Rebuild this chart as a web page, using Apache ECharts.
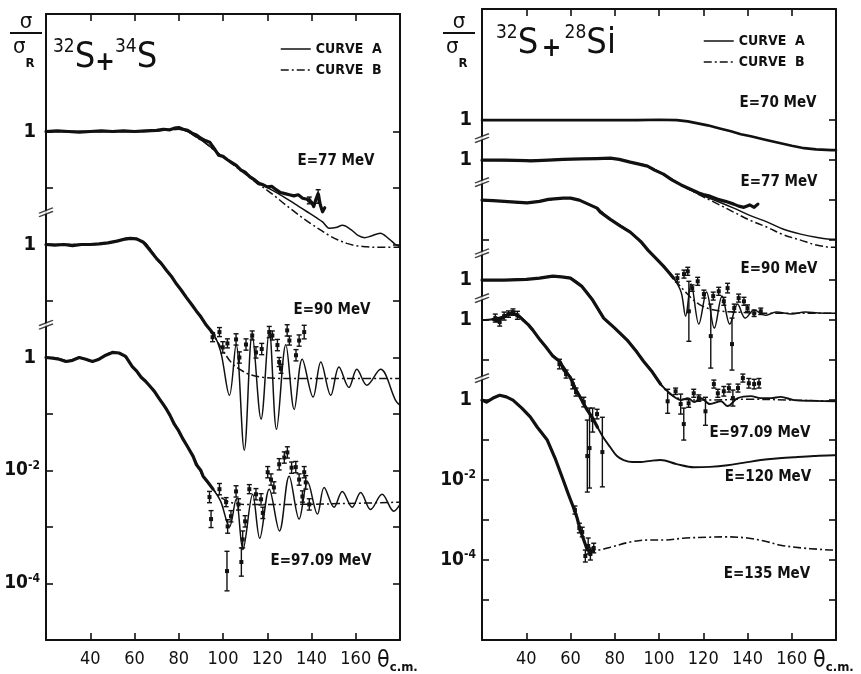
<!DOCTYPE html>
<html><head><meta charset="utf-8">
<script src="https://cdn.jsdelivr.net/npm/echarts@6/dist/echarts.min.js"></script>
<style>html,body{margin:0;padding:0;background:#fff}#c{width:861px;height:674px}</style>
</head><body><div id="c"></div>
<script>
// ---------- DATA: [theta_cm (deg), log10(sigma/sigma_R)] ; error points: [theta, log10, err] ----------
// Left panel: 32S + 34S
const L77_data = [[20,0],[25,0.01],[30,0],[35,-0.01],[40,0],[45,0.01],[50,0],[55,0.01],[60,0],[65,0.01],[70,0.02],[73,0.04],[76,0.03],[78,0.06],[80,0.07],[82,0.04],[84,0.02],[86,-0.03],[88,-0.06],[90,-0.12],[92,-0.16],[94,-0.19],[96,-0.3],[98,-0.42],[100,-0.44],[102,-0.5],[104,-0.55],[106,-0.6],[108,-0.68],[110,-0.72],[112,-0.8],[114,-0.85],[116,-0.92],[118,-0.94],[120,-0.98],[122,-0.97],[124,-1.03],[126,-1.08],[128,-1.1],[130,-1.12],[132,-1.14],[134,-1.12],[136,-1.18],[138,-1.2],[140,-1.25],[141,-1.33],[142,-1.2],[143,-1.1],[144,-1.3],[145,-1.42],[146,-1.35]];
const L77_err = [[143,-1.15,0.12],[139,-1.22,0.06]];
const L77_A = [[20,0],[40,0],[60,0],[70,0.01],[76,0.03],[80,0.04],[84,0],[88,-0.1],[92,-0.2],[96,-0.33],[100,-0.45],[104,-0.56],[108,-0.67],[112,-0.78],[116,-0.89],[120,-0.99],[125,-1.1],[130,-1.22],[134,-1.32],[138,-1.42],[142,-1.52],[145,-1.6],[148,-1.71],[151,-1.7],[154,-1.66],[158,-1.74],[161,-1.84],[164,-1.88],[167,-1.85],[171,-1.8],[175,-1.9],[178,-2.0],[180,-2.04]];
const L77_B = [[20,0],[60,0],[76,0.03],[80,0.04],[84,0],[88,-0.1],[92,-0.2],[96,-0.33],[100,-0.45],[104,-0.57],[108,-0.69],[112,-0.81],[116,-0.93],[120,-1.04],[124,-1.16],[128,-1.29],[132,-1.41],[136,-1.53],[140,-1.64],[144,-1.74],[148,-1.84],[152,-1.92],[156,-1.98],[160,-2.02],[165,-2.04],[170,-2.05],[180,-2.05]];

const L90_data = [[20,0],[24,-0.01],[28,0],[32,-0.02],[36,0],[40,0],[44,0.01],[48,0.03],[52,0.06],[55,0.09],[58,0.11],[61,0.1],[64,0.04],[67,-0.1],[70,-0.25],[72,-0.33],[74.5,-0.46],[77,-0.58],[79,-0.7],[81,-0.8],[83.5,-0.94],[86,-1.07],[88,-1.18],[90,-1.28],[92.5,-1.43],[94,-1.5],[96,-1.6]];
const L90_err = [[95.3,-1.64,0.08],[98.4,-1.55,0.08],[99.9,-1.82,0.1],[102,-1.75,0.08],[105.9,-1.68,0.1],[107.4,-2.0,0.1],[110.4,-1.77,0.1],[113.2,-1.61,0.08],[114.9,-1.91,0.1],[117.5,-1.85,0.1],[120.9,-1.55,0.1],[122.3,-1.61,0.08],[124.6,-1.78,0.1],[125.4,-2.08,0.08],[126.2,-2.2,0.08],[129,-1.52,0.1],[130,-1.7,0.08],[133,-1.96,0.1],[134.4,-1.7,0.1],[136.7,-1.55,0.12]];
const L90_A = [[20,0],[40,0],[50,0.04],[57,0.11],[62,0.08],[65,0.02],[68,-0.13],[71,-0.3],[74.5,-0.46],[79,-0.7],[83.5,-0.94],[88,-1.18],[92.5,-1.43],[96,-1.6],[99,-1.9],[102.9,-2.67],[105.9,-1.77],[109.6,-3.64],[113.2,-1.59],[117.2,-3.09],[120.9,-1.52],[124.2,-3.27],[128.4,-1.77],[132.2,-2.92],[135.8,-2.03],[140.7,-2.7],[144.2,-2.08],[148.7,-2.67],[152.4,-2.17],[156.9,-2.53],[160.5,-2.21],[165,-2.49],[171.2,-2.21],[178,-2.76],[180,-2.85]];
const L90_B = [[20,0],[40,0],[50,0.04],[57,0.11],[62,0.08],[65,0.02],[68,-0.13],[71,-0.3],[74.5,-0.46],[79,-0.7],[83.5,-0.94],[88,-1.18],[92.5,-1.43],[96,-1.62],[100,-1.88],[104,-2.1],[108,-2.22],[112,-2.3],[118,-2.35],[125,-2.37],[140,-2.37],[160,-2.37],[180,-2.37]];

const L97_data = [[20,0],[23,-0.01],[26,-0.03],[29,-0.07],[32,-0.05],[35,0],[38,-0.03],[41,-0.07],[44,-0.03],[47,0.04],[50,0.09],[53,0.08],[56,0.02],[59,-0.16],[61,-0.24],[63,-0.35],[65,-0.42],[67,-0.51],[69,-0.6],[71,-0.72],[73,-0.83],[74.5,-0.92],[76,-1.02],[78,-1.18],[80,-1.3],[82,-1.45],[84,-1.58],[86.5,-1.75],[88,-1.9],[90,-2.0],[91,-2.1],[93,-2.2],[95.5,-2.33]];
const L97_err = [[93.9,-2.47,0.1],[94.6,-2.86,0.15],[98.4,-2.33,0.1],[101.4,-2.56,0.08],[102.1,-2.99,0.12],[101.8,-3.78,0.35],[103.6,-2.81,0.1],[105.9,-2.37,0.1],[107,-2.6,0.1],[108.9,-3.22,0.15],[108.3,-3.62,0.25],[110,-2.9,0.1],[111.9,-2.33,0.08],[114.9,-2.42,0.1],[117.2,-2.51,0.1],[118,-2.75,0.1],[120.2,-2.03,0.1],[121.7,-2.16,0.1],[123,-2.3,0.1],[125.4,-1.89,0.1],[127.7,-1.77,0.1],[129.1,-1.68,0.1],[131,-1.95,0.1],[132.9,-1.94,0.1],[134.4,-2.16,0.1],[135.9,-2.46,0.1],[136.7,-2.03,0.1],[137.4,-2.21,0.12],[139,-2.6,0.1]];
const L97_A = [[20,0],[26,-0.02],[30,-0.07],[35,0],[41,-0.07],[45,0],[50,0.09],[54,0.07],[59,-0.16],[63,-0.35],[67,-0.51],[71,-0.72],[74.5,-0.92],[78,-1.18],[82,-1.45],[86.5,-1.75],[91,-2.1],[95.5,-2.33],[99,-2.55],[102.9,-3.0],[105.9,-2.51],[109,-3.4],[113.4,-2.42],[116.6,-3.2],[120.9,-2.33],[125.5,-3.07],[129.9,-2.1],[134.4,-2.86],[138.2,-2.2],[142.7,-2.77],[145.7,-2.3],[150.2,-2.65],[153.9,-2.37],[158.4,-2.65],[162.2,-2.39],[166.7,-2.69],[171.9,-2.42],[177.2,-2.72],[180,-2.6]];
const L97_B = [[20,0],[26,-0.02],[30,-0.07],[35,0],[41,-0.07],[45,0],[50,0.09],[54,0.07],[59,-0.16],[63,-0.35],[67,-0.51],[71,-0.72],[74.5,-0.92],[78,-1.18],[82,-1.45],[86.5,-1.75],[91,-2.1],[95.5,-2.33],[100,-2.5],[104,-2.57],[110,-2.6],[130,-2.6],[160,-2.58],[180,-2.56]];

// Right panel: 32S + 28Si
const R70_curve = [[20,0],[60,0],[90,0],[100,0.01],[108,0],[113,-0.03],[117.5,-0.08],[122,-0.13],[127,-0.2],[132.5,-0.28],[137,-0.35],[141.5,-0.4],[148,-0.49],[155,-0.58],[160,-0.64],[165.6,-0.7],[171,-0.73],[178,-0.75],[180,-0.75]];

const R77_data = [[20,0],[30,0],[40,-0.01],[42,-0.02],[50,0],[56.7,0.02],[65,0.03],[72,0.04],[78,0.05],[82,0.02],[87,-0.05],[91,-0.1],[94.8,-0.15],[98,-0.25],[102,-0.35],[106,-0.5],[110,-0.62],[114,-0.72],[118,-0.82],[120,-0.86],[123,-0.9],[126.6,-0.98],[130,-1.03],[133.8,-1.1],[136,-1.15],[138.4,-1.18],[141,-1.12],[143,-1.18],[144.7,-1.1]];
const R77_A = [[20,0],[40,-0.01],[56.7,0.02],[78,0.04],[87,-0.05],[94.8,-0.15],[102,-0.35],[110,-0.62],[118,-0.85],[126,-1.02],[133.8,-1.2],[141,-1.38],[149,-1.55],[156,-1.72],[164,-1.85],[171,-1.93],[179,-1.98],[180,-1.98]];
const R77_B = [[20,0],[40,-0.01],[56.7,0.02],[78,0.04],[87,-0.05],[94.8,-0.15],[102,-0.35],[110,-0.62],[118,-0.86],[126,-1.08],[133.8,-1.3],[141,-1.5],[149,-1.68],[156,-1.86],[164,-2.0],[171,-2.12],[179,-2.18],[180,-2.18]];

const R90_data = [[20,0],[25,-0.01],[30,-0.03],[35,-0.05],[40.4,-0.07],[46,-0.03],[50,0.02],[56.7,0.05],[60,0.05],[64,0.0],[68,-0.1],[72,-0.2],[73.5,-0.3],[78,-0.48],[82.6,-0.65],[87,-0.8],[91.7,-1.03],[95,-1.25],[99.4,-1.5],[102,-1.65],[104,-1.78],[106.6,-1.95]];
const R90_err = [[108.3,-1.95,0.1],[111.3,-1.85,0.1],[113,-1.78,0.1],[113.5,-2.78,0.75],[115,-2.2,0.08],[117.5,-2.03,0.1],[120.3,-2.35,0.1],[123.4,-3.4,0.8],[124.5,-2.4,0.1],[127,-2.28,0.1],[129.3,-2.53,0.1],[131,-2.2,0.12],[133,-3.6,0.65],[134,-2.7,0.1],[136,-2.45,0.1],[138.4,-2.53,0.1],[140,-2.7,0.08],[143,-2.83,0.08],[146,-2.78,0.08]];
const R90_A = [[20,0],[35,-0.05],[40.4,-0.07],[46,-0.03],[56.7,0.05],[60,0.05],[64,0],[68,-0.1],[72,-0.2],[78,-0.48],[87,-0.8],[95,-1.25],[102,-1.65],[106.6,-1.95],[110,-2.3],[112,-2.9],[114.5,-2.1],[118,-3.1],[121.5,-2.3],[125,-3.2],[128.5,-2.4],[132,-3.1],[135.5,-2.6],[139,-2.95],[143,-2.75],[148,-2.88],[153,-2.8],[160,-2.85],[166,-2.8],[172,-2.82],[180,-2.83]];
const R90_B = [[20,0],[35,-0.05],[40.4,-0.07],[46,-0.03],[56.7,0.05],[60,0.05],[64,0],[68,-0.1],[72,-0.2],[78,-0.48],[87,-0.8],[95,-1.25],[102,-1.65],[106.6,-1.95],[112,-2.3],[118,-2.6],[125,-2.75],[135,-2.8],[150,-2.83],[180,-2.83]];

const R97_data = [[20,0],[30,0],[40,0.02],[46,0.05],[52,0.1],[56,0.08],[60,0.05],[65,-0.15],[70,-0.5],[75,-0.95],[80,-1.2],[85.6,-1.5],[90,-1.8],[93,-2.03],[97,-2.3],[100.7,-2.6]];
const R97_err = [[103.9,-3.03,0.3],[107.5,-2.78,0.08],[109.8,-3.1,0.25],[111.2,-3.6,0.4],[113.4,-3.08,0.1],[115.7,-2.83,0.1],[118,-2.95,0.08],[121,-3.28,0.35],[124.8,-2.6,0.1],[126.6,-2.83,0.1],[129.3,-2.78,0.12],[131.6,-2.7,0.1],[133.4,-2.95,0.2],[135.7,-2.7,0.1],[137.9,-2.45,0.1],[140.6,-2.58,0.12],[143,-2.6,0.12],[145.2,-2.58,0.12]];
const R97_A = [[20,0],[30,0],[40,0.02],[46,0.05],[52,0.1],[56,0.08],[60,0.05],[65,-0.15],[70,-0.5],[75,-0.95],[80,-1.2],[85.6,-1.5],[90,-1.8],[93,-2.03],[97,-2.3],[100.7,-2.6],[105.3,-2.85],[110,-3.0],[113,-2.95],[116,-3.05],[119,-2.95],[123,-3.1],[128,-3.03],[131,-3.15],[135.6,-2.95],[141.5,-2.9],[146,-2.95],[150.6,-2.95],[155,-2.92],[161,-3.0],[170,-3.02],[180,-3.03]];
const R97_B = [[20,0],[30,0],[40,0.02],[46,0.05],[52,0.1],[56,0.08],[60,0.05],[65,-0.15],[70,-0.5],[75,-0.95],[80,-1.2],[85.6,-1.5],[90,-1.8],[93,-2.03],[97,-2.3],[100.7,-2.6],[105,-2.85],[110,-2.97],[120,-3.0],[140,-2.98],[160,-3.0],[180,-3.03]];

const R120_data = [[25,0.02],[27,-0.02],[29,0.05],[31,0.12],[33,0.17],[35,0.15],[37,0.08],[38.6,0],[41,-0.12],[43,-0.25],[46.3,-0.5],[49,-0.68],[52,-0.9],[55.4,-1.05],[57,-1.25],[59.9,-1.43],[62,-1.7],[64.4,-1.93],[66,-2.1],[67.6,-2.25],[70,-2.45],[72.2,-2.68]];
const R120_err = [[26,0.05,0.1],[28,-0.05,0.1],[30,0.1,0.1],[32,0.15,0.08],[34,0.2,0.08],[36,0.12,0.1],[55,-1.1,0.12],[58,-1.35,0.1],[61,-1.6,0.12],[62.5,-1.8,0.1],[66,-2.05,0.12],[67.6,-3.4,0.9],[68.6,-3.2,1.0],[70,-2.5,0.3],[72,-2.35,0.12],[74.4,-3.3,0.87]];
const R120_A = [[20,0],[25,0.02],[30,0.1],[34,0.17],[38.6,0.02],[46.3,-0.5],[52,-0.88],[55.4,-1.05],[59.9,-1.43],[64.4,-1.93],[67.6,-2.25],[72.2,-2.68],[75,-2.95],[78,-3.18],[81,-3.4],[84,-3.5],[88,-3.55],[91.7,-3.55],[96,-3.52],[100.7,-3.5],[108,-3.6],[115.7,-3.68],[123,-3.67],[131,-3.63],[138,-3.57],[146,-3.5],[153,-3.46],[161,-3.43],[170,-3.4],[179,-3.38],[180,-3.38]];

const R135_data = [[20,0],[22,-0.05],[25,0.05],[28,0.12],[31,0.08],[34,0],[38,-0.2],[41.8,-0.42],[45,-0.68],[49.5,-1.0],[53,-1.45],[56.7,-2.0],[59,-2.35],[61.3,-2.68],[63,-2.95],[64.4,-3.25],[66,-3.5],[67.6,-3.75],[70.4,-3.78]];
const R135_err = [[62,-2.75,0.1],[64,-3.2,0.12],[65.3,-3.3,0.12],[66.7,-3.9,0.15],[68,-3.65,0.2],[69,-3.85,0.15],[70.5,-3.7,0.12]];
const R135_B = [[67.6,-3.75],[72,-3.75],[78,-3.68],[87,-3.55],[95,-3.5],[102,-3.5],[112,-3.45],[122,-3.43],[130,-3.42],[140,-3.45],[148,-3.53],[155,-3.63],[165,-3.7],[172,-3.73],[179,-3.75],[180,-3.75]];

// axis tick labels
const xTickLabels = [40, 60, 80, 100, 120, 140, 160];
const leftYLabels = {'4':'1', '2':'1', '0':'1', '-2':'10^-2', '-4':'10^-4'};
const rightYLabels = {'7':'1', '6':'1', '3':'1', '2':'1', '0':'1', '-2':'10^-2', '-4':'10^-4'};
// decade offsets of each energy in the stacked display
const leftOffsets = {e77: 4, e90: 2, e97: 0};
const rightOffsets = {e70: 7, e77: 6, e90: 5, e97: 3, e120: 2, e135: 0};
// axis breaks (display units)
const leftBreaks = [2.57, 0.58];
const rightBreaks = [6.55, 5.45, 3.67, 2.55, 0.55];

// ---------- chart ----------
const F = "'DejaVu Sans Condensed','DejaVu Sans',sans-serif";
const INK = '#111';
const DASHDOT = [8, 3, 2, 3];

function sh(arr, off) { return arr.map(p => [p[0], p[1] + off]); }
function curve(name, arr, off, g, dashed, width) {
  return {type:'line', name:name, xAxisIndex:g*2, yAxisIndex:g*2, data:sh(arr,off),
    symbol:'none', smooth:0.35, silent:true, z:3, itemStyle:{color:INK},
    lineStyle:{color:INK, width:width||1.5, type: dashed ? DASHDOT : 'solid'}};
}
function band(arr, off, g, w) {
  return {type:'line', name:'data', xAxisIndex:g*2, yAxisIndex:g*2, data:sh(arr,off),
    symbol:'none', smooth:false, silent:true, z:4, itemStyle:{color:INK},
    lineStyle:{color:INK, width:w||3.2, join:'round', cap:'round'}};
}
function errs(arr, off, g) {
  return {type:'custom', name:'data', xAxisIndex:g*2, yAxisIndex:g*2, silent:true, z:5,
    data: arr.map(p => [p[0], p[1]+off, p[2]]), encode:{x:0, y:1},
    renderItem: function(params, api) {
      const x = api.value(0), y = api.value(1), e = api.value(2);
      const c = api.coord([x, y]), t = api.coord([x, y+e]), b = api.coord([x, y-e]);
      const st = {stroke:INK, lineWidth:1.4};
      return {type:'group', children:[
        {type:'line', shape:{x1:c[0], y1:t[1], x2:c[0], y2:b[1]}, style:st},
        {type:'line', shape:{x1:c[0]-2.5, y1:t[1], x2:c[0]+2.5, y2:t[1]}, style:st},
        {type:'line', shape:{x1:c[0]-2.5, y1:b[1], x2:c[0]+2.5, y2:b[1]}, style:st},
        {type:'rect', shape:{x:c[0]-2, y:c[1]-2, width:4, height:4}, style:{fill:INK}}
      ]};
    }};
}
function breaks(vals, g) {
  return [
    {type:'scatter', xAxisIndex:g*2, yAxisIndex:g*2, silent:true, clip:false, z:8,
     data: vals.map(v => [20, v]), symbol:'path://M0,6 L14,0 L14,4 L0,10 Z', symbolSize:[14,9],
     itemStyle:{color:'#fff', borderWidth:0}},
    {type:'scatter', xAxisIndex:g*2, yAxisIndex:g*2, silent:true, clip:false, z:9,
     data: vals.map(v => [20, v]), symbol:'path://M0,6 L14,0 M0,10 L14,4', symbolSize:[14,9],
     itemStyle:{color:'transparent', borderColor:INK, borderWidth:1.6}}
  ];
}

const axisLine = {onZero:false, lineStyle:{color:INK, width:2}};
const labelRich = {
  one:{fontSize:20, fontWeight:'bold', fontFamily:F, color:INK, padding:[0,4,0,0]},
  b:{fontSize:19, fontWeight:'bold', fontFamily:F, color:INK},
  s:{fontSize:12, fontWeight:'bold', fontFamily:F, color:INK, verticalAlign:'top', padding:[0,0,10,0]}
};
function yFmt(map) {
  return function(v) {
    const k = String(Math.round(v));
    if (Math.abs(v - Math.round(v)) > 1e-6 || !(k in map)) return '';
    const s = map[k];
    if (s === '1') return '{one|1}';
    const parts = s.split('^');
    return '{b|' + parts[0] + '}{s|' + parts[1] + '}';
  };
}
function xAxes(g) {
  const base = {type:'value', gridIndex:g, min:20, max:180, interval:20, splitLine:{show:false}, axisLine:axisLine};
  return [
    Object.assign({}, base, {position:'bottom',
      axisTick:{inside:true, length:7, lineStyle:{color:INK, width:1.6}, customValues: xTickLabels},
      axisLabel:{customValues: xTickLabels, margin:10, fontSize:18, fontFamily:F, color:INK},
      name:'{t|θ}{s|c.m.}', nameLocation:'end', nameGap: g===0 ? -35 : -44,
      nameTextStyle:{verticalAlign:'top', padding:[9,0,0,0],
        rich:{t:{fontSize:23, fontFamily:F, color:INK}, s:{fontSize:13, fontWeight:'bold', fontFamily:F, color:INK, padding:[12,0,0,0]}}}}),
    Object.assign({}, base, {position:'top',
      axisTick:{inside:true, length:7, lineStyle:{color:INK, width:1.6}, customValues: xTickLabels},
      axisLabel:{show:false}})
  ];
}
function yAxes(g, min, max, map, ticks) {
  const base = {type:'value', gridIndex:g, min:min, max:max, interval:1, splitLine:{show:false}, axisLine:axisLine};
  return [
    Object.assign({}, base, {position:'left',
      axisTick:{inside:true, length:7, lineStyle:{color:INK, width:1.6}, customValues: ticks},
      axisLabel:{formatter: yFmt(map), margin:6, rich: labelRich, showMinLabel:true, showMaxLabel:true}}),
    Object.assign({}, base, {position:'right',
      axisTick:{inside:true, length:7, lineStyle:{color:INK, width:1.6}, customValues: ticks},
      axisLabel:{show:false}})
  ];
}

const series = [].concat(
  // left
  curve('CURVE A', L77_A, leftOffsets.e77, 0, false),
  curve('CURVE B', L77_B, leftOffsets.e77, 0, true),
  band(L77_data, leftOffsets.e77, 0), errs(L77_err, leftOffsets.e77, 0),
  curve('CURVE A', L90_A, leftOffsets.e90, 0, false),
  curve('CURVE B', L90_B, leftOffsets.e90, 0, true),
  band(L90_data, leftOffsets.e90, 0), errs(L90_err, leftOffsets.e90, 0),
  curve('CURVE A', L97_A, leftOffsets.e97, 0, false),
  curve('CURVE B', L97_B, leftOffsets.e97, 0, true),
  band(L97_data, leftOffsets.e97, 0), errs(L97_err, leftOffsets.e97, 0),
  breaks(leftBreaks, 0),
  // right
  band(R70_curve, rightOffsets.e70, 1, 2.6),
  curve('CURVE A', R77_A, rightOffsets.e77, 1, false),
  curve('CURVE B', R77_B, rightOffsets.e77, 1, true),
  band(R77_data, rightOffsets.e77, 1),
  curve('CURVE A', R90_A, rightOffsets.e90, 1, false),
  curve('CURVE B', R90_B, rightOffsets.e90, 1, true),
  band(R90_data, rightOffsets.e90, 1), errs(R90_err, rightOffsets.e90, 1),
  curve('CURVE A', R97_A, rightOffsets.e97, 1, false, 1.9),
  curve('CURVE B', R97_B, rightOffsets.e97, 1, true),
  band(R97_data, rightOffsets.e97, 1), errs(R97_err, rightOffsets.e97, 1),
  curve('CURVE A', R120_A, rightOffsets.e120, 1, false, 1.9),
  band(R120_data, rightOffsets.e120, 1), errs(R120_err, rightOffsets.e120, 1),
  band(R135_data, rightOffsets.e135, 1), errs(R135_err, rightOffsets.e135, 1),
  curve('CURVE B', R135_B, rightOffsets.e135, 1, true, 1.6),
  breaks(rightBreaks, 1)
);

const txt = (x, y, s, size) => ({type:'text', x:x, y:y, style:{text:s, fontSize:size||15, fontWeight:'bold', fontFamily:F, fill:INK, align:'center', verticalAlign:'middle'}, z:20});
const titleRich = {
  sup:{fontSize:19, fontFamily:F, fill:INK, verticalAlign:'top', lineHeight:20},
  big:{fontSize:36, fontFamily:F, fill:INK, verticalAlign:'bottom', lineHeight:38},
  pl:{fontSize:26, fontWeight:'bold', fontFamily:F, fill:INK, verticalAlign:'bottom', lineHeight:34}
};
function sigmaLabel(x, y) {
  return [
    {type:'text', x:x+16, y:y, style:{text:'σ', fontSize:22, fontFamily:F, fill:INK, align:'center', verticalAlign:'middle'}, z:20},
    {type:'line', shape:{x1:x, y1:y+11, x2:x+32, y2:y+11}, style:{stroke:INK, lineWidth:2}, z:20},
    {type:'text', x:x+3, y:y+14, style:{text:'{a|σ}{r|R}', fill:INK,
      rich:{a:{fontSize:22, fontFamily:F, fill:INK, verticalAlign:'top', lineHeight:24},
            r:{fontSize:13, fontWeight:'bold', fontFamily:F, fill:INK, verticalAlign:'bottom', lineHeight:34}}}, z:20}
  ];
}

const legendBase = {orient:'vertical', itemWidth:30, itemHeight:10, itemGap:7, selectedMode:false,
  data:['CURVE A','CURVE B'], formatter: n => n.replace(' ', '  '),
  itemStyle:{color:'transparent', borderColor:'transparent', borderWidth:0},
  lineStyle:{color:INK, width:1.5},
  textStyle:{fontSize:14, fontWeight:'bold', fontFamily:F, color:INK}};

const option = {
  animation:false,
  backgroundColor:'#fff',
  grid:[{left:46, right:461, top:14, bottom:33}, {left:482, right:25, top:9, bottom:33}],
  xAxis:[].concat(xAxes(0), xAxes(1)),
  yAxis:[].concat(yAxes(0, -5, 6.08, leftYLabels, [-4,-3,-2,-1,0,1,2,3,4]),
                  yAxes(1, -6, 9.78, rightYLabels, [-5,-4,-3,-2,-1,0,1,2,3,4,5,6,7])),
  legend:[Object.assign({}, legendBase, {left:275, top:37}), Object.assign({}, legendBase, {left:698, top:29})],
  graphic:[].concat(
    sigmaLabel(10, 22), sigmaLabel(443, 22),
    [{type:'text', x:53, y:38, style:{text:'{sup|32}{big|S}{pl|+}{sup|34}{big|S}', rich:titleRich}, z:20},
     {type:'text', x:496, y:24, style:{text:'{sup|32}{big|S} {pl|+} {sup|28}{big|Si}', rich:titleRich}, z:20},
     txt(336,161,'E=77 MeV'), txt(332,310,'E=90 MeV'), txt(321,561,'E=97.09 MeV'),
     txt(778,103,'E=70 MeV'), txt(779,182,'E=77 MeV'), txt(779,269,'E=90 MeV'),
     txt(760,433,'E=97.09 MeV'), txt(768,477,'E=120 MeV'), txt(767,574,'E=135 MeV')]
  ),
  series: series
};
echarts.init(document.getElementById('c'), null, {renderer:'canvas'}).setOption(option);
</script></body></html>
